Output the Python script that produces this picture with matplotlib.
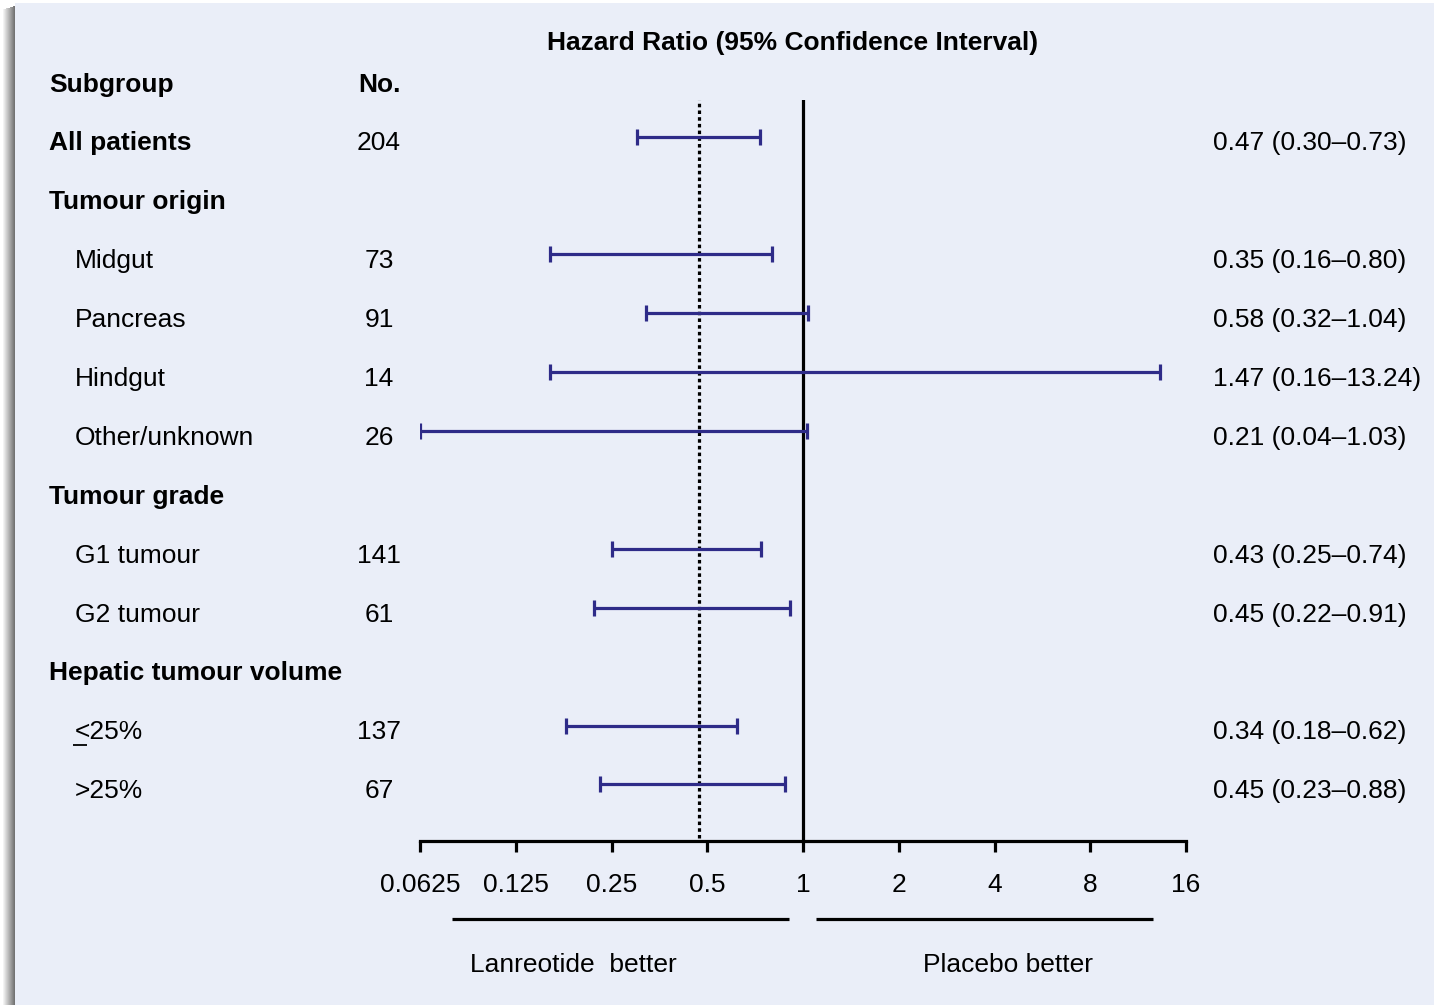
import matplotlib.pyplot as plt
import matplotlib.transforms as mtransforms
from matplotlib.patches import Rectangle
import numpy as np

plt.rcParams['font.family'] = ['Liberation Sans', 'DejaVu Sans']

# Filas del gráfico (encabezados y subgrupos)
etiquetas = ['All patients', 'Tumour origin', 'Midgut', 'Pancreas', 'Hindgut',
             'Other/unknown', 'Tumour grade', 'G1 tumour', 'G2 tumour',
             'Hepatic tumour volume', '<25%', '>25%']
es_titulo = [True, True, False, False, False, False, True, False, False, True, False, False]
pacientes = ['204', '', '73', '91', '14', '26', '', '141', '61', '', '137', '67']
hr = [0.47, None, 0.35, 0.58, 1.47, 0.21, None, 0.43, 0.45, None, 0.34, 0.45]
ic_inf = [0.30, None, 0.16, 0.32, 0.16, 0.04, None, 0.25, 0.22, None, 0.18, 0.23]
ic_sup = [0.73, None, 0.80, 1.04, 13.24, 1.03, None, 0.74, 0.91, None, 0.62, 0.88]
textos_hr = ['0.47 (0.30\u20130.73)', '', '0.35 (0.16\u20130.80)', '0.58 (0.32\u20131.04)',
             '1.47 (0.16\u201313.24)', '0.21 (0.04\u20131.03)', '', '0.43 (0.25\u20130.74)',
             '0.45 (0.22\u20130.91)', '', '0.34 (0.18\u20130.62)', '0.45 (0.23\u20130.88)']
hr_global = 0.47
ticks = [0.0625, 0.125, 0.25, 0.5, 1, 2, 4, 8, 16]
ticks_txt = ['0.0625', '0.125', '0.25', '0.5', '1', '2', '4', '8', '16']

W, H = 1434, 1005
fig = plt.figure(figsize=(W / 100, H / 100), dpi=100)
fig.patch.set_facecolor('white')

# Fondo con sombra a la izquierda
fondo = fig.add_axes([0, 0, 1, 1], zorder=-5)
fondo.set_xlim(0, W)
fondo.set_ylim(H, 0)
fondo.axis('off')
for i in range(12):
    g = 1 - 0.55 * (i + 1) / 12
    fondo.add_patch(Rectangle((3 + i, 6 + (11 - i) * 0.3), 1, H, color=(g, g, g), lw=0))
fondo.add_patch(Rectangle((15, 3), W - 15, H, color='#EAEEF8', lw=0))

# Líneas y textos de abajo
fondo.plot([452, 789], [919, 919], color='black', lw=2.3, solid_capstyle='butt')
fondo.plot([816, 1153], [919, 919], color='black', lw=2.3, solid_capstyle='butt')
fondo.text(573, 965, 'Lanreotide  better', fontsize=19, ha='center', va='center')
fondo.text(1008, 965, 'Placebo better', fontsize=19, ha='center', va='center')
# subrayado del signo "<" (menor o igual)
fondo.plot([73, 87], [745, 745], color='black', lw=1.3, solid_capstyle='butt')

# Ejes principales
ax = fig.add_axes([420 / W, 1 - 841 / H, 766 / W, 741 / H])
ax.set_facecolor('none')
paso = 58.9
ax.set_ylim((841 - 141) / paso, (100 - 141) / paso)
ax.set_xscale('log', base=2)
ax.set_xlim(ticks[0], ticks[-1])
ax.set_xticks(ticks)
ax.set_xticklabels(ticks_txt)
ax.minorticks_off()
ax.set_yticks([])
for s in ['top', 'left', 'right']:
    ax.spines[s].set_visible(False)
ax.spines['bottom'].set_linewidth(2.3)
ax.tick_params(axis='x', direction='out', length=8, width=2.3, pad=15, labelsize=19)

ax.axvline(1, color='black', lw=2.3, zorder=2)
ax.plot([hr_global, hr_global], [ax.get_ylim()[0] - 0.05, ax.get_ylim()[1]],
        color='black', lw=2.3, linestyle=(0, (1.1, 1)), zorder=2)

filas = np.arange(len(etiquetas))
idx = [i for i in filas if hr[i] is not None]
centro = np.array([hr[i] for i in idx])
inf = np.clip(np.array([ic_inf[i] for i in idx]), ticks[0], None)
sup = np.array([ic_sup[i] for i in idx])
ax.errorbar(centro, filas[idx] - 0.075, xerr=[centro - inf, sup - centro], fmt='none',
            ecolor='#2E2B88', elinewidth=2.3, capsize=5.5, capthick=2.3, zorder=3)

# Columnas de texto
tr = mtransforms.blended_transform_factory(fig.transFigure, ax.transData)
dy = 0.04
for i in filas:
    if es_titulo[i]:
        ax.text(49 / W, i + dy, etiquetas[i], transform=tr, fontsize=19, fontweight='bold',
                ha='left', va='center')
    else:
        ax.text(75 / W, i + dy, etiquetas[i], transform=tr, fontsize=19, ha='left', va='center')
    if pacientes[i]:
        ax.text(379 / W, i + dy, pacientes[i], transform=tr, fontsize=19, ha='center', va='center')
    if textos_hr[i]:
        ax.text(1213 / W, i + dy, textos_hr[i], transform=tr, fontsize=19, ha='left', va='center')

fig.text(49 / W, 1 - 85 / H, 'Subgroup', fontsize=19, fontweight='bold', ha='left', va='center')
fig.text(379 / W, 1 - 85 / H, 'No.', fontsize=19, fontweight='bold', ha='center', va='center')
fig.text(793 / W, 1 - 43 / H, 'Hazard Ratio (95% Confidence Interval)', fontsize=19,
         fontweight='bold', ha='center', va='center')

fig.savefig('out.png', dpi=100)
